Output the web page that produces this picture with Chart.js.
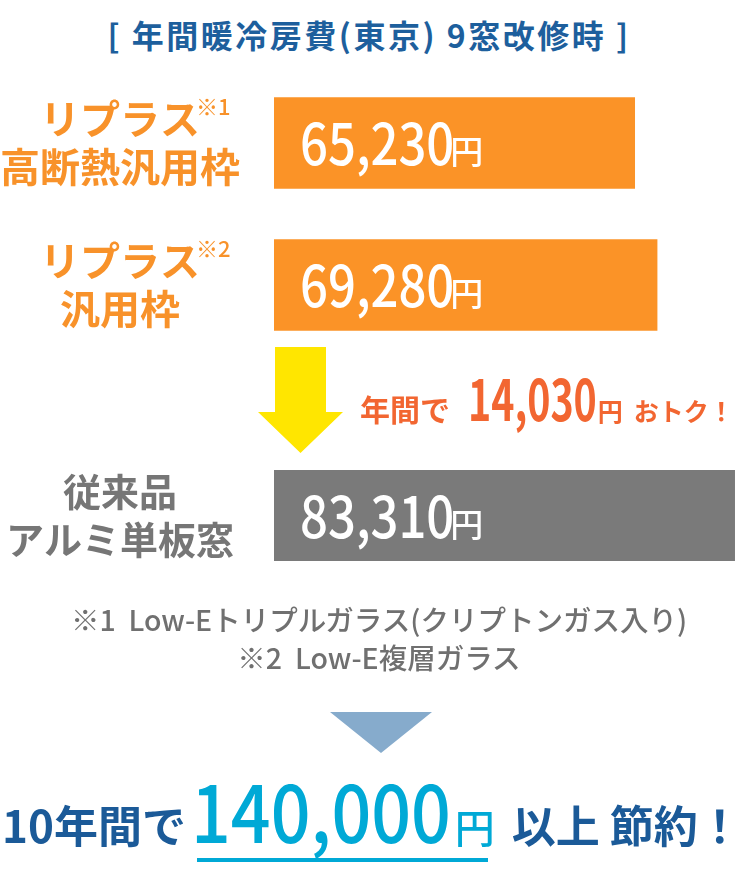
<!DOCTYPE html>
<html lang="ja">
<head>
<meta charset="utf-8">
<title>年間暖冷房費</title>
<script src="https://cdn.jsdelivr.net/npm/chart.js@4.4.1/dist/chart.umd.min.js"></script>
<style>
    body { margin: 0; background: #fff; font-family: "Noto Sans CJK JP", sans-serif; }
    .pagina { position: relative; width: 750px; height: 880px; overflow: hidden; }
    .titulo { position: absolute; left: 0; top: 13px; width: 738px; text-align: center; font-size: 32px; font-weight: 700; line-height: 42px; color: #1d5f9d; letter-spacing: 2.5px; }
    .caixa-grafico { position: absolute; left: 0; width: 750px; }
    #caixaTopo { top: 72px; height: 284px; }
    #caixaBase { top: 470px; height: 91px; }
    .seta { position: absolute; left: 0; top: 0; }
    .economia { position: absolute; left: 360px; top: 368px; white-space: nowrap; color: #f26631; font-weight: 700; line-height: 56px; }
    .economia .pequeno { font-size: 30px; }
    .economia .valor { display: inline-block; font-size: 57px; transform: scaleX(0.69); transform-origin: left; margin-left: 18px; margin-right: -57px; }
    .economia .iene { font-size: 25px; margin-right: 11px; }
    .economia .final { font-size: 25px; }
    .notas { position: absolute; left: 0; top: 600px; width: 758px; text-align: center; color: #707070; font-size: 28.5px; font-weight: 500; line-height: 38px; }
    .conclusao { position: absolute; left: 2px; top: 764px; white-space: nowrap; color: #1b5a98; font-weight: 700; line-height: 90px; }
    .conclusao .texto { font-size: 44px; }
    .conclusao .fim { font-size: 44px; }
    .conclusao .grande { display: inline-block; font-size: 79px; font-weight: 500; color: #00a9d6; margin-left: 5px; transform: scaleX(0.885); transform-origin: left; margin-right: -32px; }
    .conclusao .iene { font-size: 40px; font-weight: 500; color: #00a9d6; margin-left: 2px; margin-right: 17px; }
    .sublinhado { position: absolute; left: 197px; top: 858px; width: 291px; height: 4px; background: #00a9d6; }
</style>
</head>
<body>
<div class="pagina">
    <div class="titulo">[ 年間暖冷房費(東京) 9窓改修時 ]</div>

    <div class="caixa-grafico" id="caixaTopo"><canvas id="graficoTopo"></canvas></div>
    <div class="caixa-grafico" id="caixaBase"><canvas id="graficoBase"></canvas></div>

    <svg class="seta" width="750" height="880">
        <polygon points="275,347 326,347 326,412 343,412 300.5,453 258,412 275,412" fill="#ffe600"/>
        <polygon points="330,712 432,712 381,753" fill="#86abcc"/>
    </svg>

    <div class="economia" id="textoEconomia"></div>

    <div class="notas">※1&nbsp; Low-Eトリプルガラス(クリプトンガス入り)<br>※2&nbsp; Low-E複層ガラス</div>

    <div class="conclusao" id="textoConclusao"></div>
    <div class="sublinhado"></div>
</div>

<script>
// dados
var categorias = [['リプラス', '高断熱汎用枠'], ['リプラス', '汎用枠'], ['従来品', 'アルミ単板窓']];
var notasCategoria = ['※1', '※2', ''];
var custoAnual = [65230, 69280, 83310];
var economiaDezAnos = 140000;
var limiteX = 85000;

var corLaranja = '#fb9327';
var corCinza = '#7a7a7a';

function formata(n) {
    return n.toLocaleString('en-US');
}

document.getElementById('textoEconomia').innerHTML =
    '<span class="pequeno">年間で</span><span class="valor">' + formata(custoAnual[2] - custoAnual[1]) +
    '</span><span class="iene">円</span><span class="final">おトク！</span>';

document.getElementById('textoConclusao').innerHTML =
    '<span class="texto">10年間で</span><span class="grande">' + formata(economiaDezAnos) +
    '</span><span class="iene">円</span><span class="fim">以上 節約！</span>';

var rotulos = {
    id: 'rotulos',
    afterDatasetsDraw: function (chart) {
        var ctx = chart.ctx;
        var inicio = chart.options.plugins.rotulos.inicio;
        var corTexto = chart.options.plugins.rotulos.cor;
        var tamanho = chart.options.plugins.rotulos.tamanho;
        chart.getDatasetMeta(0).data.forEach(function (barra, i) {
            var k = inicio + i;
            var y = barra.y;

            // valor dentro da barra
            var txt = formata(custoAnual[k]);
            ctx.save();
            ctx.fillStyle = '#fff';
            ctx.textBaseline = 'alphabetic';
            ctx.textAlign = 'left';
            ctx.translate(barra.base + 26, y + 22);
            ctx.scale(0.86, 1);
            ctx.font = '500 57px "Noto Sans CJK JP"';
            ctx.fillText(txt, 0, 0);
            var w = ctx.measureText(txt).width;
            ctx.restore();

            ctx.save();
            ctx.fillStyle = '#fff';
            ctx.textBaseline = 'alphabetic';
            ctx.font = '500 33px "Noto Sans CJK JP"';
            ctx.fillText('円', barra.base + 26 + w * 0.86 - 4, y + 21);
            ctx.restore();

            // nome da categoria
            var linhas = categorias[k];
            ctx.save();
            ctx.fillStyle = corTexto;
            ctx.textAlign = 'center';
            ctx.textBaseline = 'middle';
            ctx.font = '700 ' + tamanho + 'px "Noto Sans CJK JP"';
            ctx.fillText(linhas[0], 120, y - 24);
            ctx.fillText(linhas[1], 120, y + 24);
            if (notasCategoria[k]) {
                var larg = ctx.measureText(linhas[0]).width;
                ctx.textAlign = 'left';
                ctx.font = '500 22px "Noto Sans CJK JP"';
                ctx.fillText(notasCategoria[k], 120 + larg / 2 - 4, y - 36);
            }
            ctx.restore();
        });
    }
};

function criaGrafico(idCanvas, inicio, fim, cor, corTexto, tamanho) {
    return new Chart(document.getElementById(idCanvas), {
        type: 'bar',
        data: {
            labels: categorias.slice(inicio, fim).map(function (l) { return l.join(''); }),
            datasets: [{
                data: custoAnual.slice(inicio, fim),
                backgroundColor: cor,
                borderWidth: 0,
                barThickness: 91
            }]
        },
        options: {
            indexAxis: 'y',
            responsive: true,
            maintainAspectRatio: false,
            animation: false,
            layout: { padding: { left: 274, right: 6, top: 0, bottom: 0 } },
            scales: {
                x: { display: false, min: 0, max: limiteX },
                y: { display: false }
            },
            plugins: {
                legend: { display: false },
                tooltip: { enabled: false },
                rotulos: { inicio: inicio, cor: corTexto, tamanho: tamanho }
            }
        },
        plugins: [rotulos]
    });
}

criaGrafico('graficoTopo', 0, 2, corLaranja, '#f8922a', 40);
criaGrafico('graficoBase', 2, 3, corCinza, '#767676', 38);
</script>
</body>
</html>
